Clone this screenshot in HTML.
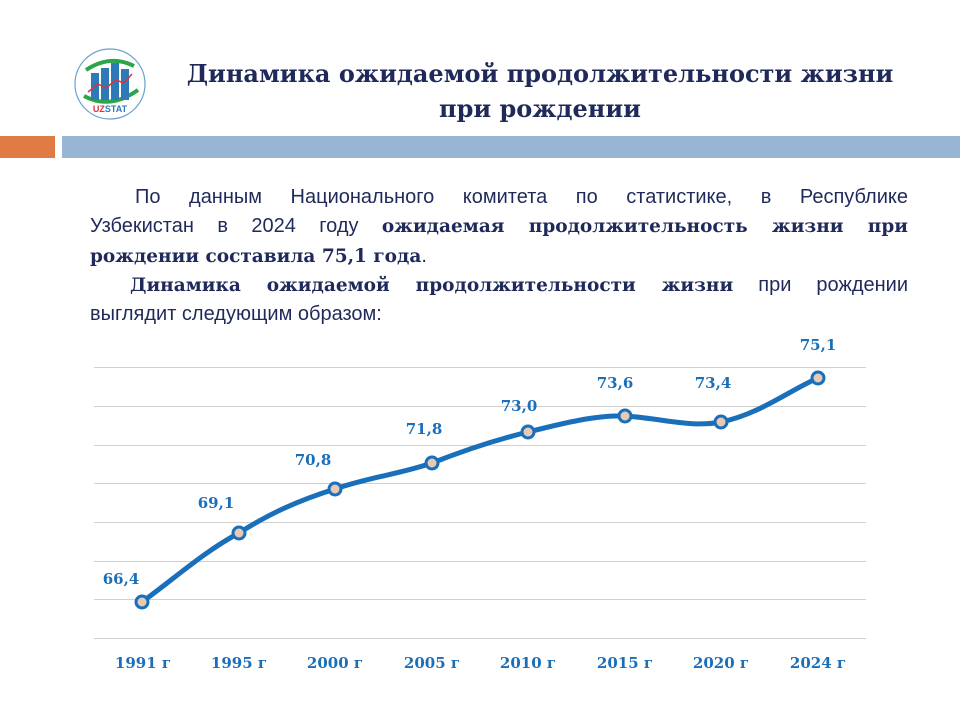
<!DOCTYPE html>
<html><head><meta charset="utf-8"><style>
body{margin:0;width:960px;height:720px;background:#fff;position:relative;overflow:hidden;font-family:"Liberation Sans",sans-serif}
.title{position:absolute;left:140px;width:800px;top:56px;text-align:center;font-family:"DejaVu Serif",serif;font-weight:bold;font-size:24px;line-height:35px;color:#1f2a5a;white-space:nowrap}
.bar1{position:absolute;left:0;top:136px;width:55px;height:22px;background:#e07b45}
.bar2{position:absolute;left:62px;top:136px;width:898px;height:22px;background:#98b6d3}
.p{position:absolute;left:90px;width:818px;top:183px;font-size:20px;line-height:29.3px;color:#1f2a5a}
.p div{white-space:nowrap;text-align:justify;text-align-last:justify}
.p div.l{text-align-last:left}
.p b{font-family:"DejaVu Serif",serif;font-size:18.5px}
</style></head><body>
<svg style="position:absolute;left:72px;top:48px" width="76" height="72" viewBox="0 0 76 72">
<circle cx="38" cy="36" r="35" fill="#fff" stroke="#6aa0cf" stroke-width="1.2"/>
<path d="M14 22 Q38 6 62 18" stroke="#2aa54a" stroke-width="4" fill="none"/>
<path d="M12 48 Q38 62 66 42" stroke="#2aa54a" stroke-width="4" fill="none"/>
<rect x="19" y="25" width="8" height="27" fill="#2e7ab8"/>
<rect x="29" y="20" width="8" height="32" fill="#2e7ab8"/>
<rect x="39" y="15" width="8" height="37" fill="#2e7ab8"/>
<rect x="49" y="21" width="8" height="31" fill="#2e7ab8"/>
<polyline points="16,44 26,36 34,40 44,32 52,35 60,26" stroke="#d9333f" stroke-width="1.5" fill="none"/>
<text x="38" y="64" font-size="9" font-weight="bold" text-anchor="middle" font-family="Liberation Sans"><tspan fill="#d9333f">UZ</tspan><tspan fill="#2e7ab8">STAT</tspan></text>
</svg>
<div class="title">Динамика ожидаемой продолжительности жизни<br>при рождении</div>
<div class="bar1"></div><div class="bar2"></div>
<div class="p">
<div style="padding-left:45px">По данным Национального комитета по статистике, в Республике</div>
<div>Узбекистан в 2024 году <b>ожидаемая продолжительность жизни при</b></div>
<div class="l"><b>рождении составила 75,1 года</b>.</div>
<div style="padding-left:40px"><b>Динамика ожидаемой продолжительности жизни</b> при рождении</div>
<div class="l">выглядит следующим образом:</div>
</div>
<svg style="position:absolute;left:0;top:0" width="960" height="720">
<g stroke="#d0d0d0" stroke-width="1">
<line x1="94" x2="866" y1="367.5" y2="367.5"/><line x1="94" x2="866" y1="406.5" y2="406.5"/>
<line x1="94" x2="866" y1="445.5" y2="445.5"/><line x1="94" x2="866" y1="483.5" y2="483.5"/>
<line x1="94" x2="866" y1="522.5" y2="522.5"/><line x1="94" x2="866" y1="561.5" y2="561.5"/>
<line x1="94" x2="866" y1="599.5" y2="599.5"/><line x1="94" x2="866" y1="638.5" y2="638.5"/>
</g>
<path d="M142,602 C175,578 205,551 239,533 C270,513 300,500 335,489 C370,477 400,474 432,463 C465,450 495,440 528,432 C560,424 595,415 625,416 C660,418 690,428 721,422 C760,414 790,390 818,378" stroke="#1a6fba" stroke-width="5" fill="none"/>
<g fill="#e8c9b3" stroke="#1a6fba" stroke-width="3">
<circle cx="142" cy="602" r="6"/><circle cx="239" cy="533" r="6"/><circle cx="335" cy="489" r="6"/><circle cx="432" cy="463" r="6"/>
<circle cx="528" cy="432" r="6"/><circle cx="625" cy="416" r="6"/><circle cx="721" cy="422" r="6"/><circle cx="818" cy="378" r="6"/>
</g>
<g fill="#1a6fba" font-family="DejaVu Serif,serif" font-weight="bold" font-size="15" text-anchor="middle">
<text x="121" y="584">66,4</text><text x="216" y="508">69,1</text><text x="313" y="465">70,8</text><text x="424" y="434">71,8</text>
<text x="519" y="411">73,0</text><text x="615" y="388">73,6</text><text x="713" y="388">73,4</text><text x="818" y="350">75,1</text>
<text x="143" y="668">1991 г</text><text x="239" y="668">1995 г</text><text x="335" y="668">2000 г</text><text x="432" y="668">2005 г</text>
<text x="528" y="668">2010 г</text><text x="625" y="668">2015 г</text><text x="721" y="668">2020 г</text><text x="818" y="668">2024 г</text>
</g>
</svg>
</body></html>
